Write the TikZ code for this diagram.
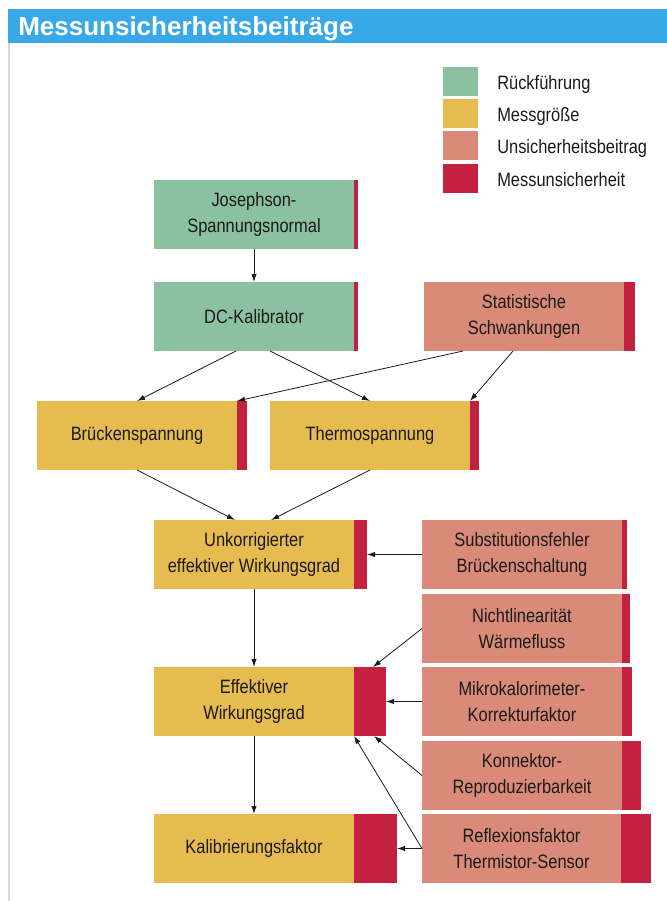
\documentclass[tikz,border=0pt]{standalone}
\usepackage{fontspec}
\setmainfont{Liberation Sans}[FakeStretch=0.85]
\newfontfamily\titelschrift{Liberation Sans}
\usetikzlibrary{arrows.meta,calc}

\definecolor{rueck}{HTML}{8BC1A0}
\definecolor{groesse}{HTML}{E6BB50}
\definecolor{beitrag}{HTML}{D98A78}
\definecolor{unsich}{HTML}{C4203F}
\definecolor{titelblau}{HTML}{38A8E8}
\definecolor{rahmen}{HTML}{D6D6D6}
\definecolor{tinte}{HTML}{1A1A1A}

\newcommand{\lbl}{\fontsize{14.5}{20}\selectfont}

\tikzset{
	box/.style={minimum width=150pt, minimum height=51.75pt, inner sep=0pt, outer sep=0pt, align=center, text=tinte, font=\lbl},
	rueckbox/.style={box, fill=rueck},
	groessebox/.style={box, fill=groesse},
	beitragbox/.style={box, fill=beitrag},
	unsbar/.style={fill=unsich, minimum height=51.75pt, minimum width=#1, inner sep=0pt, outer sep=0pt, anchor=west},
	pfeil/.style={-{Latex[length=6pt,width=4pt]}, line width=0.6pt, tinte}
}

\begin{document}
\begin{tikzpicture}[x=0.75pt,y=-0.75pt]
	\useasboundingbox (0,0) rectangle (667,901);
	% Titel
	\fill[titelblau] (8,9) rectangle (667,43);
	\node[anchor=base west, text=white, inner sep=0pt, font=\titelschrift\bfseries\fontsize{19.5}{22}\selectfont] (titel) at (18,35.5) {Messunsicherheitsbeiträge};
	\draw[rahmen, line width=1.2pt] (9,43) -- (9,901);

	% Legende
	\foreach \farbe/\bez/\y/\b [count=\i] in {rueck/Rückführung/81.5/89, groesse/Messgröße/113.5/121, beitrag/Unsicherheitsbeitrag/145.5/153.5, unsich/Messunsicherheit/178.5/186} {
		\node[fill=\farbe, minimum width=26.25pt, minimum height=21.75pt, inner sep=0pt] (leg\i) at (460.5,\y) {};
		\node[anchor=base west, font=\lbl, text=tinte, inner sep=0pt] (legtext\i) at (497,\b) {\bez};
	}

	% Rueckfuehrung
	\node[rueckbox] (jos) at (254,214.5) {Josephson-\\Spannungsnormal};
	\node[unsbar=3pt] (josbar) at (jos.east) {};
	\node[rueckbox] (dc) at (254,316.5) {DC-Kalibrator};
	\node[unsbar=3pt] (dcbar) at (dc.east) {};
	\node[beitragbox] (stat) at (524,316.5) {Statistische\\Schwankungen};
	\node[unsbar=8.25pt] (statbar) at (stat.east) {};

	% Messgroessen
	\node[groessebox] (brk) at (137,435.5) {Brückenspannung};
	\node[unsbar=7.5pt] (brkbar) at (brk.east) {};
	\node[groessebox] (thm) at (370,435.5) {Thermospannung};
	\node[unsbar=6.75pt] (thmbar) at (thm.east) {};
	\node[groessebox] (unk) at (254,554.5) {Unkorrigierter\\effektiver Wirkungsgrad};
	\node[unsbar=9.75pt] (unkbar) at (unk.east) {};
	\node[groessebox] (eff) at (254,701.5) {Effektiver\\Wirkungsgrad};
	\node[unsbar=24pt] (effbar) at (eff.east) {};
	\node[groessebox] (kal) at (254,848.5) {Kalibrierungsfaktor};
	\node[unsbar=32.25pt] (kalbar) at (kal.east) {};

	% Beitraege
	\node[beitragbox] (sub) at (522,554.5) {Substitutionsfehler\\Brückenschaltung};
	\node[unsbar=3.75pt] (subbar) at (sub.east) {};
	\node[beitragbox] (nic) at (522,628.5) {Nichtlinearität\\Wärmefluss};
	\node[unsbar=6pt] (nicbar) at (nic.east) {};
	\node[beitragbox] (mik) at (522,701.5) {Mikrokalorimeter-\\Korrekturfaktor};
	\node[unsbar=7.5pt] (mikbar) at (mik.east) {};
	\node[beitragbox] (kon) at (522,775.5) {Konnektor-\\Reproduzierbarkeit};
	\node[unsbar=14.25pt] (konbar) at (kon.east) {};
	\node[beitragbox, minimum width=149.25pt] (ref) at (521.5,848.5) {Reflexionsfaktor\\Thermistor-Sensor};
	\node[unsbar=22.5pt] (refbar) at (ref.east) {};

	% Pfeile
	\draw[pfeil] (jos.south) -- (dc.north);
	\draw[pfeil] ($(dc.south)+(-18,0)$) -- (brk.north);
	\draw[pfeil] ($(dc.south)+(16,0)$) -- (thm.north);
	\draw[pfeil] ($(stat.south)+(-61,0)$) -- (brk.north east);
	\draw[pfeil] ($(stat.south)+(-11,0)$) -- (thm.north east);
	\draw[pfeil] (brk.south) -- ($(unk.north)+(-19,0)$);
	\draw[pfeil] (thm.south) -- ($(unk.north)+(17,0)$);
	\draw[pfeil] (unk.south) -- (eff.north);
	\draw[pfeil] (sub.west) -- (unkbar.east);
	\draw[pfeil] (nic.west) -- ($(effbar.north)+(3,0)$);
	\draw[pfeil] (mik.west) -- (effbar.east);
	\draw[pfeil] (kon.west) -- ($(effbar.south)+(4,0)$);
	\draw[pfeil] (ref.west) -- (eff.south east);
	\draw[pfeil] (ref.west) -- (kalbar.east);
	\draw[pfeil] (eff.south) -- (kal.north);
\end{tikzpicture}
\end{document}
